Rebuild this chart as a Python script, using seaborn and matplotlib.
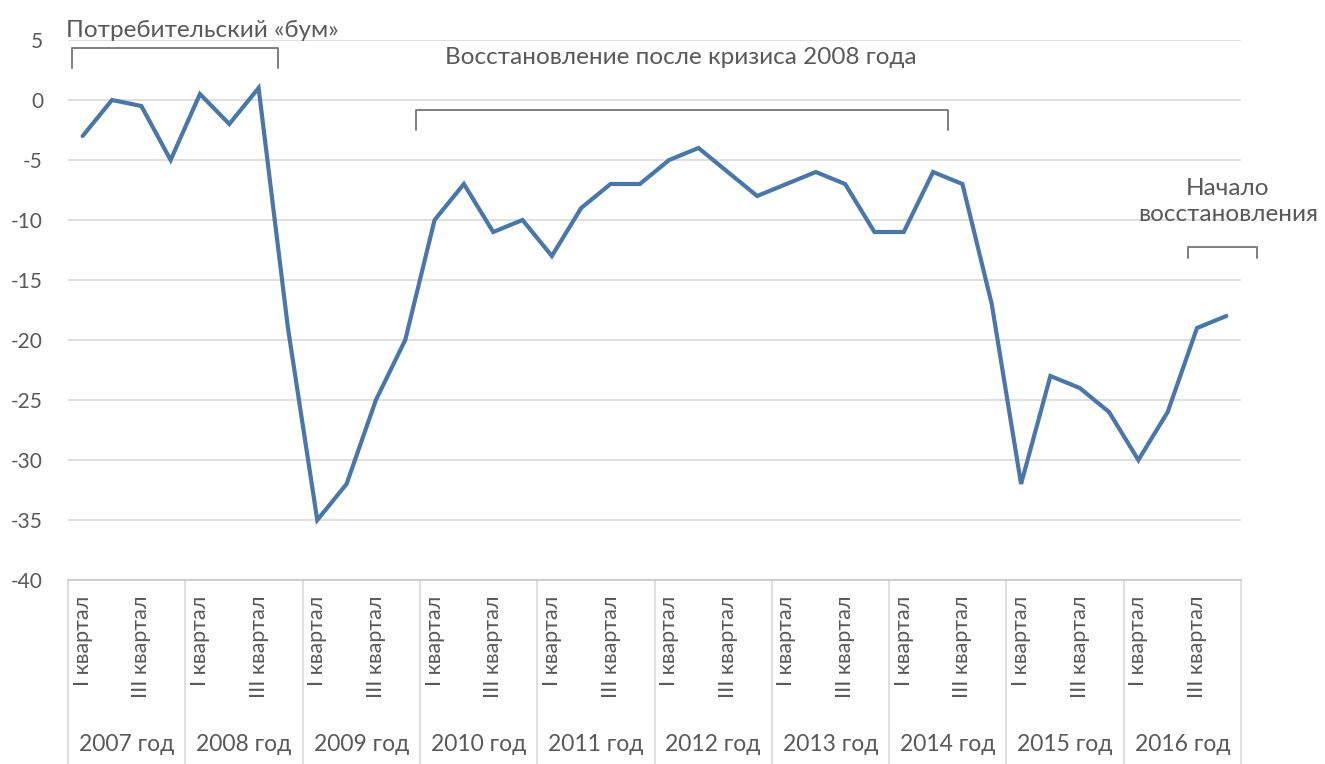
import matplotlib
matplotlib.use("Agg")
import matplotlib.pyplot as plt
import seaborn as sns
import pandas as pd
from matplotlib.transforms import blended_transform_factory

# Годы и подписи кварталов (подписываются только I и III кварталы)
years = ["2007 год", "2008 год", "2009 год", "2010 год", "2011 год",
         "2012 год", "2013 год", "2014 год", "2015 год", "2016 год"]
quarter_labels = ["I квартал", "", "III квартал", ""]

# Индекс потребительских настроений по кварталам
index_values = [-3, 0, -0.5, -5,
                0.5, -2, 1, -19,
                -35, -32, -25, -20,
                -10, -7, -11, -10,
                -13, -9, -7, -7,
                -5, -4, -6, -8,
                -7, -6, -7, -11,
                -11, -6, -7, -17,
                -32, -23, -24, -26,
                -30, -26, -19, -18]

y_ticks = [5, 0, -5, -10, -15, -20, -25, -30, -35, -40]

sns.set_theme(style="white")
plt.rcParams["font.family"] = ["Lato", "DejaVu Sans"]

TEXT = "#595959"
GRID = "#d9d9d9"
LINE = "#4a76a8"
BRACKET = "#7f7f7f"

n_q = len(quarter_labels)
df = pd.DataFrame({
    "pos": range(len(index_values)),
    "value": index_values,
})

fig = plt.figure(figsize=(13.25, 7.64), dpi=100)
ax = fig.add_axes([68 / 1325, 184 / 764, 1173 / 1325, 540 / 764])

sns.lineplot(data=df, x="pos", y="value", ax=ax, color=LINE,
             linewidth=3.0, solid_joinstyle="miter", zorder=3)

ax.set_xlim(-0.5, len(index_values) - 0.5)
ax.set_ylim(-40, 5)
ax.set_yticks(y_ticks)
ax.set_yticklabels([str(v) for v in y_ticks])
ax.yaxis.grid(True, color=GRID, linewidth=1.2)
ax.xaxis.grid(False)
ax.set_xlabel("")
ax.set_ylabel("")

for side in ["left", "right", "top"]:
    ax.spines[side].set_visible(False)
ax.spines["bottom"].set_color("#c8c8c8")
ax.spines["bottom"].set_linewidth(1.2)

ax.set_xticks(df["pos"])
ax.set_xticklabels([quarter_labels[i % n_q] for i in df["pos"]],
                   rotation=90, fontsize=15.5, color=TEXT)
ax.tick_params(axis="x", length=0, pad=11)
ax.tick_params(axis="y", length=0, pad=18, labelsize=15, labelcolor=TEXT)

# Разделители годов и подписи годов под осью
xtrans = blended_transform_factory(ax.transData, ax.transAxes)
for i, year in enumerate(years):
    ax.plot([i * n_q - 0.5] * 2, [0, -0.345], transform=xtrans,
            color=GRID, linewidth=1.2, clip_on=False)
    ax.text(i * n_q + (n_q - 1) / 2, -0.305, year, transform=xtrans,
            ha="center", va="center", fontsize=16.5, color=TEXT)
ax.plot([len(years) * n_q - 0.5] * 2, [0, -0.345], transform=xtrans,
        color=GRID, linewidth=1.2, clip_on=False)


def bracket(x0, x1, y_top, y_bottom):
    ax.plot([x0, x0, x1, x1], [y_bottom, y_top, y_top, y_bottom],
            color=BRACKET, linewidth=1.4, clip_on=False, zorder=4)


# Потребительский «бум»
bracket(-0.35, 6.65, 4.3, 2.7)
ax.text(4.07, 5.8, "Потребительский «бум»", ha="center", va="center",
        fontsize=17.5, color=TEXT)

# Восстановление после кризиса 2008 года
bracket(11.35, 29.5, -0.85, -2.5)
ax.text(20.4, 3.5, "Восстановление после кризиса 2008 года",
        ha="center", va="center", fontsize=17.5, color=TEXT)

# Начало восстановления
bracket(37.7, 40.05, -12.25, -13.2)
ax.text(39.05, -8.45, "Начало\nвосстановления", ha="center", va="center",
        fontsize=17.5, color=TEXT, linespacing=1.3)

fig.savefig("out.png", dpi=100, facecolor="white")
